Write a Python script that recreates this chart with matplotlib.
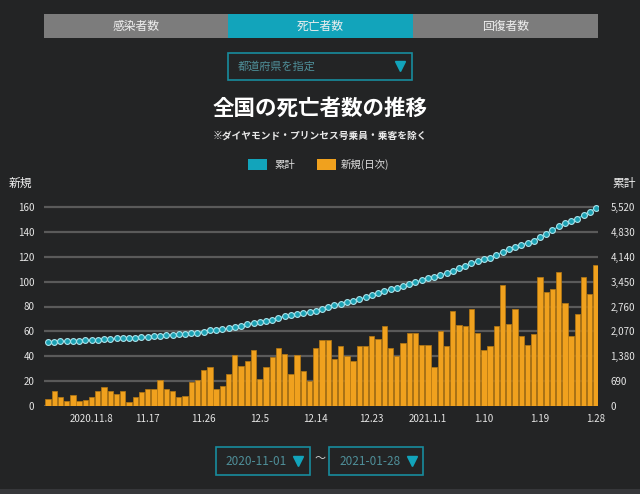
import numpy as np
import matplotlib
matplotlib.use("Agg")
import matplotlib.pyplot as plt
from matplotlib.patches import Rectangle

plt.rcParams['font.family'] = ['Noto Sans CJK JP', 'DejaVu Sans']

# ---- data ----
daily_new = [6, 12, 7, 4, 9, 4, 5, 7, 12, 15,
             12, 10, 12, 3, 7, 11, 14, 14, 21, 14,
             12, 7, 8, 19, 21, 29, 31, 14, 16, 26,
             41, 32, 36, 45, 22, 31, 39, 47, 42, 26,
             41, 28, 20, 47, 53, 53, 38, 48, 40, 36,
             48, 48, 56, 54, 64, 47, 40, 51, 59, 59,
             49, 49, 31, 60, 48, 76, 65, 64, 78, 59,
             45, 48, 64, 97, 66, 78, 56, 49, 58, 104,
             92, 94, 108, 83, 56, 74, 104, 90, 113]
cumulative_start = 1770  # cumulative deaths before 2020-11-01
tick_days = [8, 17, 26, 35, 44, 53, 62, 71, 80, 89]
tick_labels = ["2020.11.8", "11.17", "11.26", "12.5", "12.14", "12.23",
               "2021.1.1", "1.10", "1.19", "1.28"]
left_ticks = [0, 20, 40, 60, 80, 100, 120, 140, 160]
right_ticks = [0, 690, 1380, 2070, 2760, 3450, 4140, 4830, 5520]
tabs = ["感染者数", "死亡者数", "回復者数"]

days = np.arange(1, len(daily_new) + 1)
cumulative = cumulative_start + np.cumsum(daily_new)

BG = '#232425'
TEAL = '#12a4bb'
ORANGE = '#f0a11e'
W, H = 640, 494

fig = plt.figure(figsize=(6.4, 4.94), dpi=100, facecolor=BG)

def fx(px):
    return px / W

def fy(py):
    return 1 - py / H

# overlay axes for decorations in pixel coords
deco = fig.add_axes([0, 0, 1, 1], zorder=0)
deco.set_xlim(0, W)
deco.set_ylim(H, 0)
deco.axis('off')
deco.set_facecolor('none')

# tabs
tab_edges = [44, 228, 413, 598]
for i, name in enumerate(tabs):
    col = TEAL if i == 1 else '#7c7c7c'
    deco.add_patch(Rectangle((tab_edges[i], 14), tab_edges[i + 1] - tab_edges[i], 24,
                             facecolor=col, edgecolor='none'))
    deco.text((tab_edges[i] + tab_edges[i + 1]) / 2, 26.5, name, color='#f0f0f0',
              fontsize=8.5, ha='center', va='center')

# dropdown
deco.add_patch(Rectangle((228, 53), 184, 27, facecolor='none', edgecolor='#178c9e', lw=1.2))
deco.text(238, 67, "都道府県を指定", color='#4f8f99', fontsize=8, ha='left', va='center')
deco.plot([400], [66.5], marker='v', color=TEAL, markersize=6.5, linestyle='none')

# titles
deco.text(320, 108, "全国の死亡者数の推移", color='white', fontsize=15.5, fontweight='bold',
          ha='center', va='center')
deco.text(320, 136, "※ダイヤモンド・プリンセス号乗員・乗客を除く", color='#e8e8e8', fontsize=7,
          fontweight='bold', ha='center', va='center')

# legend
deco.add_patch(Rectangle((248, 159), 19, 11, facecolor=TEAL, edgecolor='none'))
deco.text(274, 164.5, "累計", color='#e0e0e0', fontsize=7.5, ha='left', va='center')
deco.add_patch(Rectangle((317, 159), 19, 11, facecolor=ORANGE, edgecolor='none'))
deco.text(341, 164.5, "新規(日次)", color='#e0e0e0', fontsize=7.5, ha='left', va='center')

# axis titles
deco.text(9, 183, "新規", color='#f0f0f0', fontsize=8.5, ha='left', va='center')
deco.text(636, 183, "累計", color='#f0f0f0', fontsize=8.5, ha='right', va='center')

# date pickers
deco.add_patch(Rectangle((216, 447), 94, 28, facecolor='none', edgecolor='#178c9e', lw=1.2))
deco.text(225, 461, "2020-11-01", color='#4f8f99', fontsize=8.5, ha='left', va='center')
deco.plot([298], [460.5], marker='v', color=TEAL, markersize=6.5, linestyle='none')
deco.text(320, 459, "〜", color='#d0d0d0', fontsize=8, ha='center', va='center')
deco.add_patch(Rectangle((329, 447), 94, 28, facecolor='none', edgecolor='#178c9e', lw=1.2))
deco.text(339, 461, "2021-01-28", color='#4f8f99', fontsize=8.5, ha='left', va='center')
deco.plot([412], [460.5], marker='v', color=TEAL, markersize=6.5, linestyle='none')
deco.add_patch(Rectangle((0, 489), 640, 5, facecolor='#36373a', edgecolor='none'))

# main chart
ymax = 162
top_px = 406 - (406 - 207) * ymax / 160
ax = fig.add_axes([fx(44), fy(406), fx(598 - 44), (406 - top_px) / H], zorder=2)
ax.set_facecolor('none')
per_bar = (596 - 48) / 88.0
x_left = 1 - (48 - 44) / per_bar
x_right = 89 + (598 - 596) / per_bar
ax.set_xlim(x_left, x_right)
ax.set_ylim(0, ymax)

ax.bar(days, daily_new, width=0.86, color=ORANGE, edgecolor='#b87a12', linewidth=0.5, zorder=3)
for v in left_ticks:
    ax.axhline(v, color='#5a5a5a', lw=1.6, zorder=1)

ax.set_yticks(left_ticks)
ax.set_yticklabels([str(v) for v in left_ticks])
ax.set_xticks(tick_days)
ax.set_xticklabels(tick_labels)
ax.tick_params(axis='both', colors='#e6e6e6', labelsize=7, length=0)
ax.tick_params(axis='y', pad=7)
ax.tick_params(axis='x', pad=6)
for s in ax.spines.values():
    s.set_visible(False)

ax2 = ax.twinx()
ax2.set_ylim(0, 5520 * ymax / 160)
ax2.plot(days, cumulative, color=TEAL, lw=1.2, marker='o', markersize=4.2,
         markerfacecolor='#1aa0b2', markeredgecolor='#a9e4ec', markeredgewidth=0.8, zorder=5)
ax2.set_yticks(right_ticks)
ax2.set_yticklabels([f"{v:,}" for v in right_ticks])
ax2.tick_params(axis='y', colors='#e6e6e6', labelsize=7, length=0, pad=9)
for s in ax2.spines.values():
    s.set_visible(False)

fig.savefig("out.png", dpi=100, facecolor=BG)
